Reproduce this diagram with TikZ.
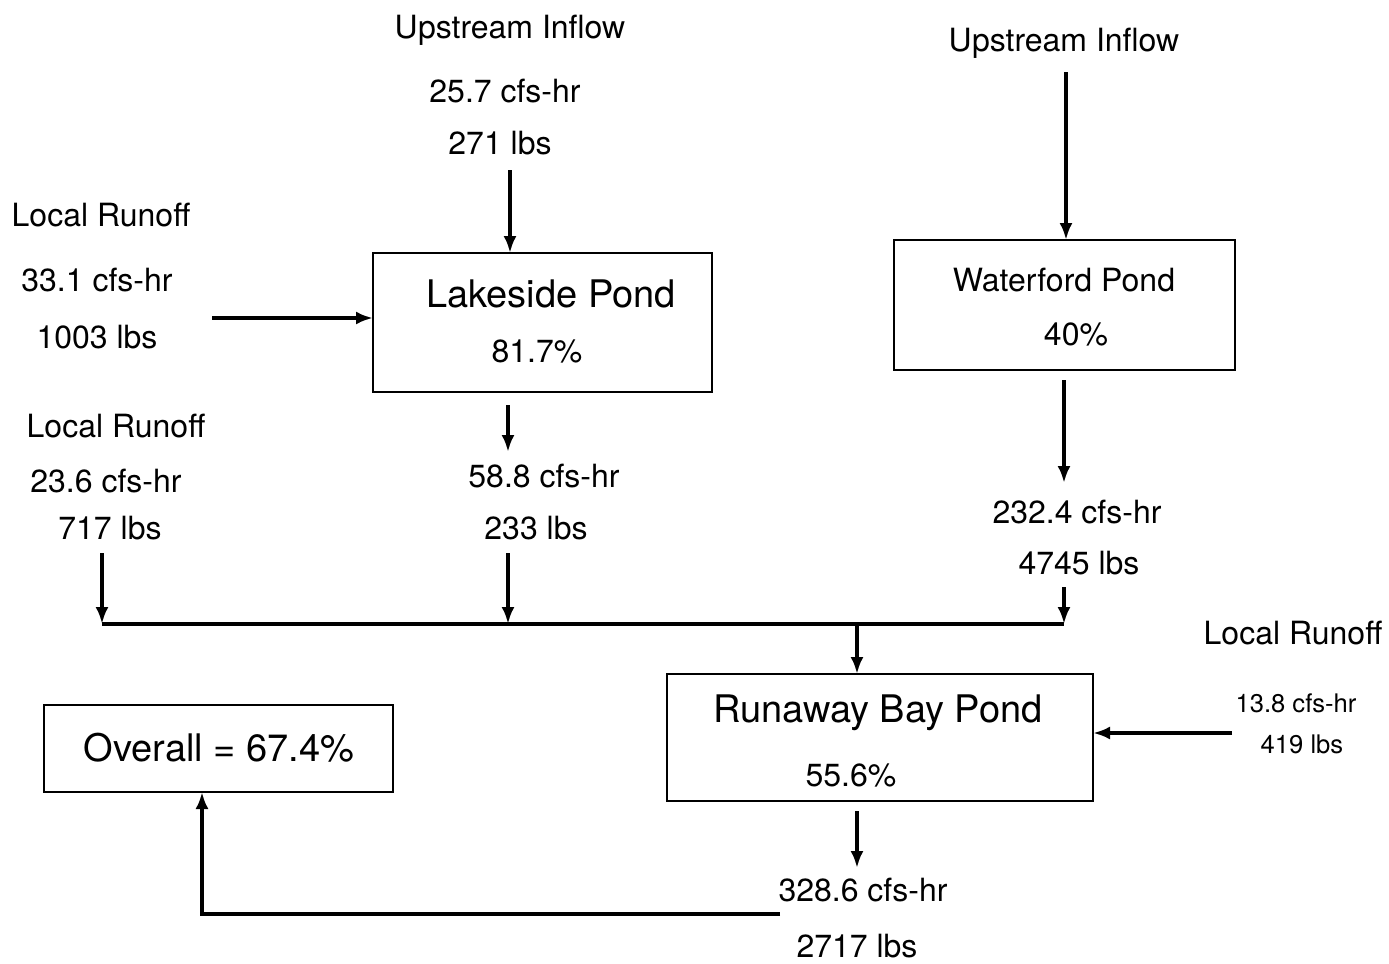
\documentclass[tikz,border=0pt]{standalone}
\usepackage{fontspec}
\setmainfont{TeX Gyre Heros}
\usetikzlibrary{arrows.meta,positioning,calc}

\tikzset{
  pond/.style={draw, line width=1.1pt, inner sep=0pt, outer sep=0pt},
  txt/.style={anchor=base, inner sep=0pt, font=\fontsize{16}{19}\selectfont},
  bigtxt/.style={anchor=base, inner sep=0pt, font=\fontsize{19}{23}\selectfont},
  smalltxt/.style={anchor=base, inner sep=0pt, font=\fontsize{12.8}{15}\selectfont},
  flow/.style={-{Latex[length=8.5pt,width=6.5pt]}, line width=1.7pt},
  pipe/.style={line width=1.8pt}
}

\begin{document}
\begin{tikzpicture}[x=0.5pt, y=-0.5pt]
  \useasboundingbox (0,0) rectangle (1389,964);

  % ponds
  \node[pond, minimum width=169.5pt, minimum height=69.5pt] (lake) at (542.5,322.5) {};
  \node[pond, minimum width=170.5pt, minimum height=65pt] (wf) at (1064.5,305) {};
  \node[pond, minimum width=213pt, minimum height=63.5pt] (rb) at (880,737.5) {};
  \node[pond, minimum width=174.5pt, minimum height=43.5pt] (ov) at (218.5,748.5) {};

  \node[bigtxt] (lakeName) at (551,307) {Lakeside Pond};
  \node[txt] (lakeEff) at (537,362) {81.7\%};
  \node[txt] (wfName) at (1064,291) {Waterford Pond};
  \node[txt] (wfEff) at (1076,345) {40\%};
  \node[bigtxt] (rbName) at (878,722) {Runaway Bay Pond};
  \node[txt] (rbEff) at (851,786) {55.6\%};
  \node[bigtxt] (ovName) at (219,761) {Overall = 67.4\%};

  % inflow labels
  \node[txt] (upA) at (510,38) {Upstream Inflow};
  \node[txt] (upAq) at (505,102) {25.7 cfs-hr};
  \node[txt] (upAl) at (500,154) {271 lbs};
  \node[txt] (upB) at (1064,51) {Upstream Inflow};

  \node[txt] (runA) at (101,226) {Local Runoff};
  \node[txt] (runAq) at (97,291) {33.1 cfs-hr};
  \node[txt] (runAl) at (97,348) {1003 lbs};

  \node[txt] (runB) at (116,437) {Local Runoff};
  \node[txt] (runBq) at (106,492) {23.6 cfs-hr};
  \node[txt] (runBl) at (110,539) {717 lbs};

  \node[txt] (runC) at (1293,644) {Local Runoff};
  \node[smalltxt] (runCq) at (1296,712) {13.8 cfs-hr};
  \node[smalltxt] (runCl) at (1302,753) {419 lbs};

  % outflow labels
  \node[txt] (outAq) at (544,487) {58.8 cfs-hr};
  \node[txt] (outAl) at (536,539) {233 lbs};
  \node[txt] (outBq) at (1077,523) {232.4 cfs-hr};
  \node[txt] (outBl) at (1079,574) {4745 lbs};
  \node[txt] (outCq) at (863,901) {328.6 cfs-hr};
  \node[txt] (outCl) at (857,957) {2717 lbs};

  % arrow ends
  \coordinate (upAend) at (510,170);
  \coordinate (runAend) at (212,318);
  \coordinate (upBend) at (1066,72);
  \coordinate (wfOut) at (1064,380);
  \coordinate (wfOutEnd) at (1064,483);
  \coordinate (lakeOut) at (508,405);
  \coordinate (lakeOutEnd) at (508,452);
  \coordinate (busA) at (102,624);
  \coordinate (busB) at (508,624);
  \coordinate (busC) at (1064,624);
  \coordinate (busD) at (857,624);
  \coordinate (runBend) at (102,553);
  \coordinate (outAend) at (508,553);
  \coordinate (outBend) at (1064,587);
  \coordinate (runCend) at (1232,733);
  \coordinate (rbOut) at (857,811);
  \coordinate (rbOutEnd) at (857,868);
  \coordinate (retA) at (780,914);
  \coordinate (retB) at (202,914);

  % connectors
  \draw[flow] (upAend) -- (upAend |- lake.north);
  \draw[flow] (runAend) -- (runAend -| lake.west);
  \draw[flow] (upBend) -- (upBend |- wf.north);
  \draw[flow] (wfOut) -- (wfOutEnd);
  \draw[flow] (lakeOut) -- (lakeOutEnd);
  \draw[flow] (runBend) -- (busA);
  \draw[flow] (outAend) -- (busB);
  \draw[flow] (outBend) -- (busC);
  \draw[pipe] (busA) -- (busC);
  \draw[flow] (busD) -- (busD |- rb.north);
  \draw[flow] (runCend) -- (runCend -| rb.east);
  \draw[flow] (rbOut) -- (rbOutEnd);
  \draw[flow] (retA) -- (retB) -- (retB |- ov.south);
\end{tikzpicture}
\end{document}
